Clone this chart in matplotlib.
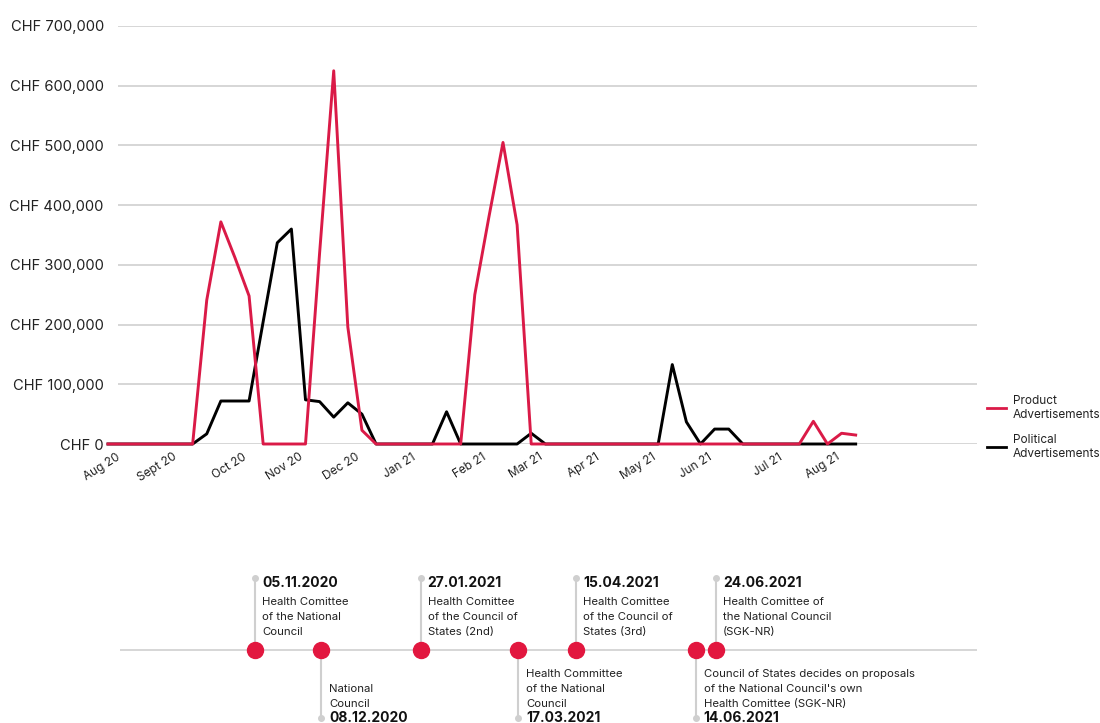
import numpy as np
import pandas as pd
import matplotlib.pyplot as plt
from matplotlib.ticker import FuncFormatter
from matplotlib.lines import Line2D

plt.rcParams['font.family'] = ['Inter', 'DejaVu Sans']

# weekly ad spend in CHF, one value per week (late Jul 2020 - early Aug 2021)
product_ads = [0, 0, 0, 0, 0, 0, 0, 241000, 372000, 312000, 248000, 0, 0, 0,
               0, 320000, 625000, 196000, 23000, 0, 0, 0, 0, 0, 0, 0, 250000,
               380000, 505000, 367000, 0, 0, 0, 0, 0, 0, 0, 0, 0, 0, 0, 0, 0,
               0, 0, 0, 0, 0, 0, 0, 38000, 0, 18000, 15000]
political_ads = [0, 0, 0, 0, 0, 0, 0, 17000, 72000, 72000, 72000, 205000, 337000,
                 360000, 74000, 71000, 45000, 69000, 50000, 0, 0, 0, 0, 0, 54000,
                 0, 0, 0, 0, 0, 18000, 0, 0, 0, 0, 0, 0, 0, 0, 0, 133000, 37000,
                 0, 25000, 25000, 0, 0, 0, 0, 0, 0, 0, 0, 0]

# month labels and the week they are placed on
month_labels = ['Aug 20', 'Sept 20', 'Oct 20', 'Nov 20', 'Dec 20', 'Jan 21', 'Feb 21',
                'Mar 21', 'Apr 21', 'May 21', 'Jun 21', 'Jul 21', 'Aug 21']
month_weeks = [1, 5, 10, 14, 18, 22, 27, 31, 35, 39, 43, 48, 52]

# parliamentary timeline
event_dates = ['2020-11-05', '2020-12-08', '2021-01-27', '2021-03-17',
               '2021-04-15', '2021-06-14', '2021-06-24']
event_texts = ['Health Comittee\nof the National\nCouncil',
               'National\nCouncil',
               'Health Comittee\nof the Council of\nStates (2nd)',
               'Health Committee\nof the National\nCouncil',
               'Health Comittee\nof the Council of\nStates (3rd)',
               "Council of States decides on proposals\nof the National Council's own\nHealth Comittee (SGK-NR)",
               'Health Comittee of\nthe National Council\n(SGK-NR)']
event_above = [True, False, True, False, True, False, True]

RED = '#da1a47'
DOT_RED = '#e2173f'
GRID = '#cfcfcf'
TEXT = '#222222'

fig = plt.figure(figsize=(11, 7.23), dpi=100)

# ---- line chart ----
ax = fig.add_axes([108 / 1100, 1 - 444 / 723, 869 / 1100, 418 / 723])
weeks = np.arange(len(product_ads))
ax.plot(weeks, political_ads, color='black', lw=2.1, zorder=3, clip_on=False)
ax.plot(weeks, product_ads, color=RED, lw=2.1, zorder=4, clip_on=False)

ax.set_xlim(0, 61.6)
ax.set_ylim(0, 700000)
yt = np.arange(0, 700001, 100000)
ax.set_yticks(yt)
ax.yaxis.set_major_formatter(FuncFormatter(lambda v, p: f'CHF {v:,.0f}'))
ax.hlines(yt, 0.0115, 1.0, transform=ax.get_yaxis_transform(), color=GRID, lw=1.2, zorder=1)
ax.tick_params(axis='y', length=0, pad=3, labelsize=10.6, labelcolor=TEXT)

ax.set_xticks(month_weeks)
ax.set_xticklabels(month_labels)
ax.tick_params(axis='x', length=0, pad=5, labelsize=8.5, labelcolor=TEXT)
plt.setp(ax.get_xticklabels(), rotation=32, ha='right')

for s in ax.spines.values():
    s.set_visible(False)

handles = [Line2D([], [], color=RED, lw=2.0), Line2D([], [], color='black', lw=2.0)]
fig.legend(handles, ['Product\nAdvertisements', 'Political\nAdvertisements'],
           loc='upper left', bbox_to_anchor=(987 / 1100, 1 - 395 / 723),
           frameon=False, fontsize=8.5, handlelength=1.6, handletextpad=0.6,
           labelspacing=1.1, borderpad=0, borderaxespad=0, labelcolor=TEXT)

# ---- timeline ----
ax2 = fig.add_axes([120 / 1100, 0, 857 / 1100, 146 / 723])
ax2.set_xlim(pd.Timestamp('2020-08-29 06:00'), pd.Timestamp('2021-11-02'))
ax2.set_ylim(-1, 1)
ax2.axis('off')
ax2.axhline(0, color=GRID, lw=1.2, zorder=1)

dates = pd.to_datetime(event_dates)
for d, txt, up in zip(dates, event_texts, event_above):
    end = 0.985 if up else -0.93
    ax2.plot([d, d], [0, end], color=GRID, lw=1.5, zorder=1, clip_on=False)
    ax2.plot([d], [end], 'o', color=GRID, ms=4, zorder=2, clip_on=False)
    label = d.strftime('%d.%m.%Y')
    if up:
        ax2.annotate(label, (d, 0), xytext=(7, 67), textcoords='offset pixels',
                     ha='left', va='center', fontsize=10, fontweight='bold',
                     color='#111111', annotation_clip=False)
        ax2.annotate(txt, (d, 0), xytext=(7, 53), textcoords='offset pixels',
                     ha='left', va='top', fontsize=8.2, color=TEXT,
                     linespacing=1.6, annotation_clip=False)
    else:
        ax2.annotate(label, (d, 0), xytext=(8, -61), textcoords='offset pixels',
                     ha='left', va='top', fontsize=10, fontweight='bold',
                     color='#111111', annotation_clip=False)
        ax2.annotate(txt, (d, 0), xytext=(8, -59), textcoords='offset pixels',
                     ha='left', va='bottom', fontsize=8.2, color=TEXT,
                     linespacing=1.6, annotation_clip=False)

ax2.plot(dates, np.zeros(len(dates)), 'o', color=DOT_RED, ms=11.5, zorder=3, clip_on=False)

fig.savefig('out.png', dpi=100)
